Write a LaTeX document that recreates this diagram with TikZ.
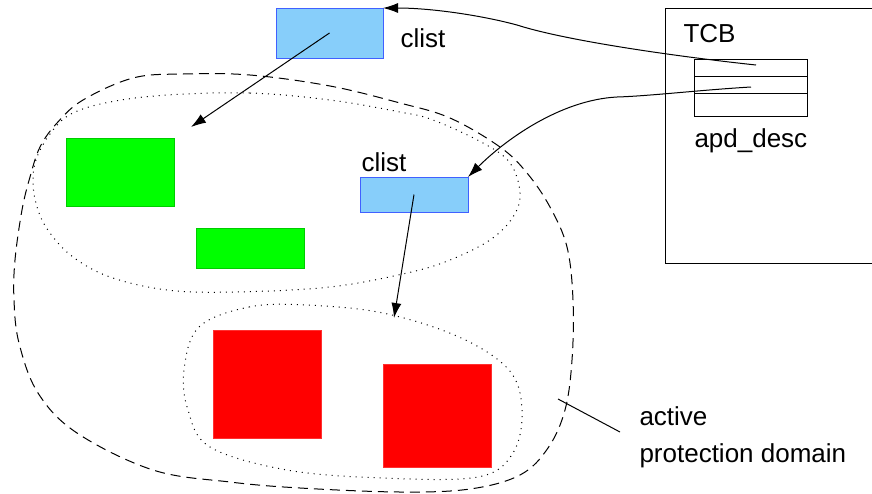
\documentclass[tikz,border=0pt]{standalone}
\usepackage{fontspec}
\setmainfont{Liberation Sans}
\usetikzlibrary{arrows.meta}
\definecolor{clistfill}{HTML}{87CEFA}
\definecolor{clistdraw}{HTML}{4060FF}
\definecolor{grnfill}{HTML}{00FF00}
\definecolor{grndraw}{HTML}{00CC00}
\definecolor{redfill}{HTML}{FF0000}
\definecolor{reddraw}{HTML}{FF3030}
\begin{document}
\begin{tikzpicture}[x=1pt,y=-1pt,line width=1pt,
                    boxND/.style={rectangle,
                                  draw,
                                  inner sep=0pt,
                                  outer sep=0pt},
                    clistND/.style={boxND,
                                    draw=clistdraw,
                                    fill=clistfill},
                    grnND/.style={boxND,
                                  draw=grndraw,
                                  fill=grnfill},
                    redND/.style={boxND,
                                  draw=reddraw,
                                  fill=redfill},
                    rowND/.style={boxND,
                                  minimum width=113pt},
                    lblND/.style={inner sep=0pt,
                                  anchor=base west,
                                  font=\fontsize{26}{31}\selectfont},
                    ptr/.style={-{Latex[length=15pt,width=10pt]}}]
                \useasboundingbox (0,0) rectangle (872,493);
                % domains
                \draw[dash pattern=on 10pt off 6pt] plot[smooth cycle, tension=0.6] coordinates
                    {(133,78) (183,74) (250,75) (330,86) (400,103) (450,118) (500,147)
                     (527,173) (550,207) (567,247) (573,300) (572,360) (565,410)
                     (548,448) (520,475) (470,489) (400,492) (300,488) (230,482)
                     (153,470) (77,433) (38,393) (19,343) (14,300) (15,260) (22,210)
                     (30,177) (40,147) (57,123) (83,100)};
                \draw[dash pattern=on 1pt off 5pt] plot[smooth cycle, tension=0.6] coordinates
                    {(167,95) (250,93) (330,100) (400,112) (433,120) (483,143) (510,163)
                     (520,193) (513,217) (490,240) (450,260) (407,273) (330,287)
                     (233,292) (167,290) (110,277) (73,257) (50,233) (38,210)
                     (33,183) (37,157) (53,130) (73,113) (110,102)};
                \draw[dash pattern=on 1pt off 5pt] plot[smooth cycle, tension=0.6] coordinates
                    {(199,327) (249,307) (306,305) (383,313) (459,337) (509,370) (522,410)
                     (513,453) (478,477) (383,478) (287,470) (210,447) (188,410) (184,370)};
                % boxes
                \node[clistND, minimum width=107pt, minimum height=50pt](clistA) at (329.5,33)   {};
                \node[clistND, minimum width=108pt, minimum height=35pt](clistB) at (414,194.5)  {};
                \node[grnND,   minimum width=108pt, minimum height=68pt](grnA)   at (120,172)    {};
                \node[grnND,   minimum width=108pt, minimum height=40pt](grnB)   at (250,248)    {};
                \node[redND,   minimum width=108pt, minimum height=108pt](redA)  at (267,384)    {};
                \node[redND,   minimum width=108pt, minimum height=103pt](redB)  at (437,415.5)  {};
                \node[boxND,   minimum width=207pt, minimum height=255pt](tcb)   at (768.5,135.5){};
                \node[rowND,   minimum height=17pt](rowA) at (750.5,67.5)  {};
                \node[rowND,   minimum height=17pt](rowB) at (750.5,84.5)  {};
                \node[rowND,   minimum height=23pt](rowC) at (750.5,104.5) {};
                % labels
                \node[lblND](lclistA) at (400,47)  {clist};
                \node[lblND](lclistB) at (361,171) {clist};
                \node[lblND](ltcb)    at (683,42)  {TCB};
                \node[lblND](lapd)    at (694,147) {apd\_desc};
                \node[lblND](lact)    at (639,425) {active};
                \node[lblND](lprot)   at (639,462) {protection domain};
                % pointers
                \coordinate (srcA) at (756,65);
                \coordinate (srcB) at (751,87);
                \coordinate (kinkA) at (517,25);
                \coordinate (kinkB) at (617,97);
                \coordinate (tipC) at (191,127);
                \coordinate (tipD) at (394,318);
                \coordinate (apdA) at (558,399);
                \coordinate (apdB) at (620,432);
                \draw[ptr] (srcA) .. controls (690,58) and (570,42) .. (kinkA)
                                  .. controls (480,15) and (430,8) .. (clistA.north east);
                \draw[ptr] (srcB) .. controls (700,90) and (650,96) .. (kinkB)
                                  .. controls (560,100) and (505,140) .. (clistB.north east);
                \draw[ptr] (clistA.center) -- (tipC);
                \draw[ptr] (clistB.center) -- (tipD);
                \draw (apdA) -- (apdB);
            \end{tikzpicture}
\end{document}
